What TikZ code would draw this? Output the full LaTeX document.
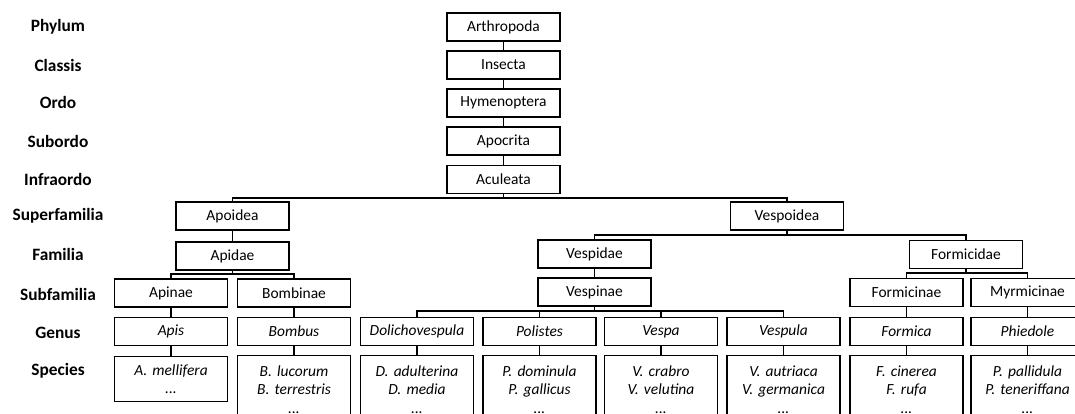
\documentclass[tikz,border=0pt]{standalone}
\usepackage{fontspec}
\setmainfont{Carlito}
\usepackage{tikz}
\usetikzlibrary{positioning}

\begin{document}
\begin{tikzpicture}[x=0.75pt,y=-0.75pt,line width=0.8pt,
  taxon/.style={draw,minimum width=84.75pt,minimum height=21pt,inner sep=0pt,font=\fontsize{11.6}{13}\selectfont},
  genus/.style={taxon,font=\fontsize{11.6}{13}\selectfont\itshape},
  species/.style={taxon,anchor=north,text width=80pt,align=center,minimum height=51pt,
    font=\fontsize{11.6}{13.9}\selectfont\itshape},
  rank/.style={font=\fontsize{13}{15}\selectfont\bfseries}]
  \useasboundingbox (0,0) rectangle (1075,414);
  \clip (0,0) rectangle (1075,414);
  \foreach \lab/\yy [count=\i] in {Phylum/27,Classis/65,Ordo/102,Subordo/141,Infraordo/179,
    Superfamilia/216,Familia/254,Subfamilia/294,Genus/333,Species/371}
    \node[rank] (rank\i) at (58,\yy) {\lab};
  \node[taxon] (arth) at (503.5,27) {Arthropoda};
  \node[taxon] (insec) at (503.5,65) {Insecta};
  \node[taxon] (hymen) at (503.5,103) {Hymenoptera};
  \node[taxon] (apoc) at (503.5,141) {Apocrita};
  \node[taxon] (acul) at (503.5,179.5) {Aculeata};
  \node[taxon] (apoi) at (232.5,216) {Apoidea};
  \node[taxon] (vespo) at (787,216) {Vespoidea};
  \node[taxon] (apid) at (232.5,256) {Apidae};
  \node[taxon] (vespi) at (594.5,254) {Vespidae};
  \node[taxon] (formi) at (966,254.5) {Formicidae};
  \node[taxon] (apin) at (171,293) {Apinae};
  \node[taxon] (bomb) at (294,293) {Bombinae};
  \node[taxon] (vespn) at (594.5,292) {Vespinae};
  \node[taxon] (formn) at (906.5,292.5) {Formicinae};
  \node[taxon] (myrm) at (1027.5,292.5) {Myrmicinae};
  \node[genus] (apis) at (171,331.5) {Apis};
  \node[genus] (bombus) at (294,331.5) {Bombus};
  \node[genus] (dolic) at (417,331.5) {Dolichovespula};
  \node[genus] (polis) at (539.5,331.5) {Polistes};
  \node[genus] (vespa) at (661,331.5) {Vespa};
  \node[genus] (vespu) at (783.5,331.5) {Vespula};
  \node[genus] (formica) at (906.5,331.5) {Formica};
  \node[genus] (phied) at (1027.5,331.5) {Phiedole};
  \node[species,minimum height=33.75pt] (sapis) at (171,356) {A. mellifera\\...};
  \node[species] (sbomb) at (294,355) {B. lucorum\\B. terrestris\\...};
  \node[species] (sdolic) at (417,355) {D. adulterina\\D. media\\...};
  \node[species] (spolis) at (539.5,355) {P. dominula\\P. gallicus\\...};
  \node[species] (svespa) at (661,355) {V. crabro\\V. velutina\\...};
  \node[species] (svespu) at (783.5,355) {V. autriaca\\V. germanica\\...};
  \node[species] (sformi) at (906.5,355) {F. cinerea\\F. rufa\\...};
  \node[species] (sphied) at (1027.5,355) {P. pallidula\\P. teneriffana\\...};
  \coordinate (busA) at (503.5,198);
  \coordinate (busB) at (787,235);
  \coordinate (busC) at (232.5,274);
  \coordinate (busD) at (966,273);
  \coordinate (busE) at (594.5,311);
  \draw (arth) -- (insec);
  \draw (insec) -- (hymen);
  \draw (hymen) -- (apoc);
  \draw (apoc) -- (acul);
  \draw (acul) -- (busA);
  \draw (apoi.north) |- (busA) -| (vespo.north);
  \draw (apoi) -- (apid);
  \draw (vespo) -- (busB);
  \draw (vespi.north) |- (busB) -| (formi.north);
  \draw (apid) -- (busC);
  \draw (apin.north) |- (busC) -| (bomb.north);
  \draw (formi) -- (busD);
  \draw (formn.north) |- (busD) -| (myrm.north);
  \draw (vespi) -- (vespn);
  \draw (vespn) -- (busE);
  \draw (dolic.north) |- (busE) -| (vespu.north);
  \draw (polis.north) |- (busE);
  \draw (vespa.north) |- (busE);
  \draw (apin) -- (apis);
  \draw (bomb) -- (bombus);
  \draw (formn) -- (formica);
  \draw (myrm) -- (phied);
  \draw (apis) -- (sapis);
  \draw (bombus) -- (sbomb);
  \draw (dolic) -- (sdolic);
  \draw (polis) -- (spolis);
  \draw (vespa) -- (svespa);
  \draw (vespu) -- (svespu);
  \draw (formica) -- (sformi);
  \draw (phied) -- (sphied);
\end{tikzpicture}
\end{document}
